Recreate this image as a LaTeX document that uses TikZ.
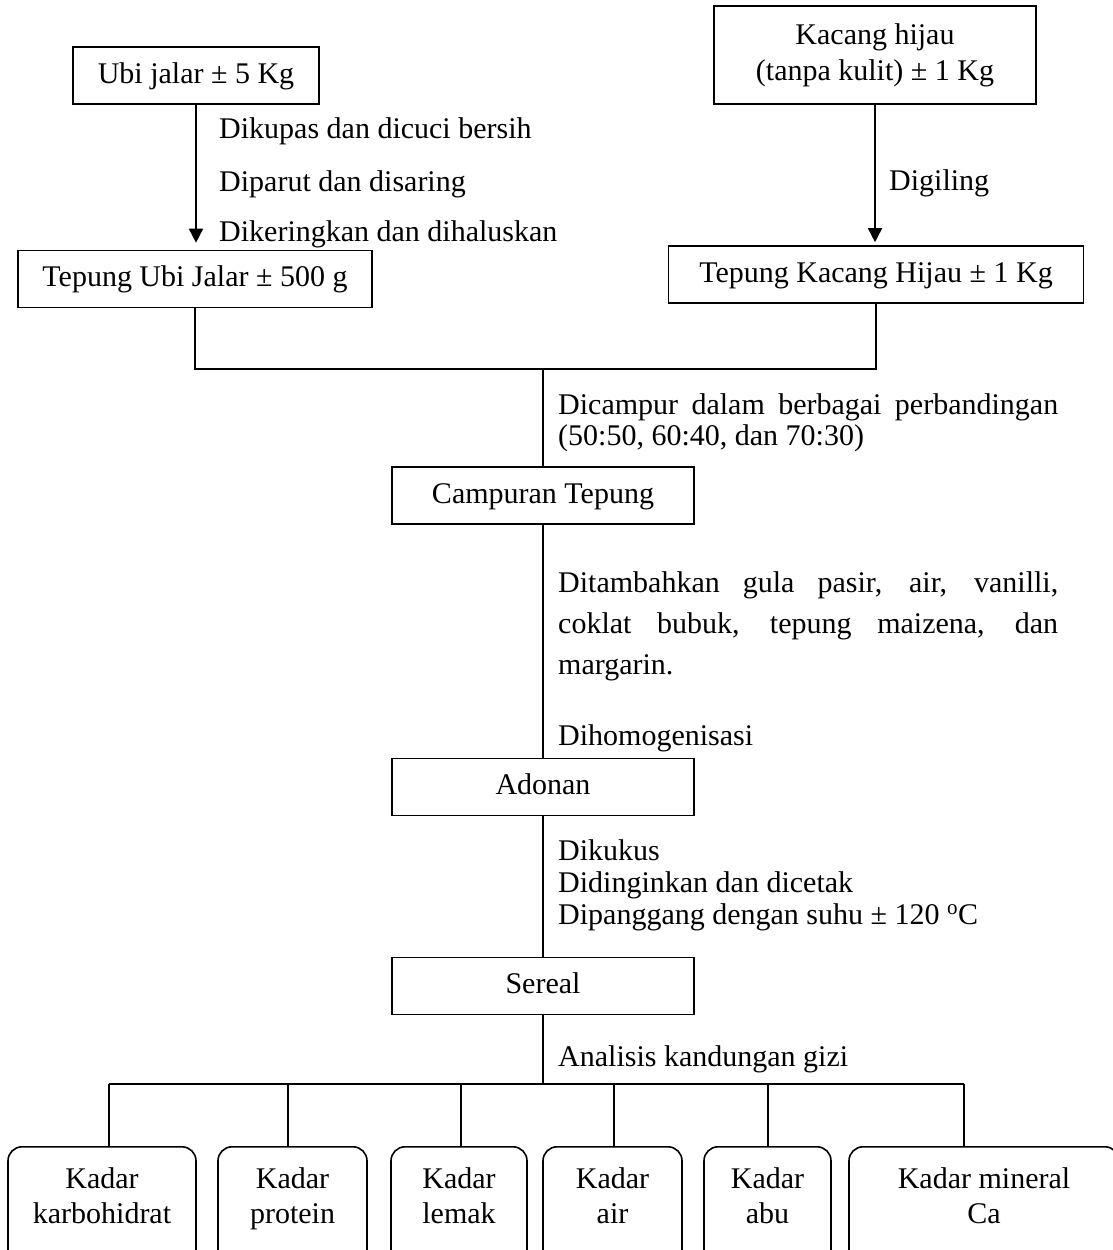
\documentclass[tikz,border=0pt]{standalone}
\usepackage{fontspec}
\setmainfont{Liberation Serif}
\usetikzlibrary{arrows.meta}
\tikzset{
  boxtxt/.style={font=\fontsize{30}{36}\selectfont},
  box/.style={draw, line width=1.6pt, minimum height=57pt, inner xsep=0pt, inner ysep=0pt,
              text height=22pt, text depth=7pt, boxtxt},
  kbox/.style={draw, line width=1.6pt, rounded corners=14pt, anchor=north, align=center,
               inner xsep=0pt, inner ysep=20.5pt, font=\fontsize{30}{35}\selectfont},
  lbl/.style={anchor=base west, inner sep=0pt, boxtxt},
  conn/.style={line width=1.6pt},
  arr/.style={line width=1.6pt, -{Triangle[width=14pt,length=14pt]}},
}
\begin{document}
\begin{tikzpicture}[x=1pt,y=-1pt]
\fill[white] (0,0) rectangle (1113,1250);
\useasboundingbox (0,0) rectangle (1113,1250);

% top boxes
\node[box, minimum width=246pt] (ubi) at (196,75.5) {Ubi jalar ± 5 Kg};
\node[draw, line width=1.6pt, minimum width=322pt, minimum height=98pt, align=center,
      inner sep=0pt, boxtxt] (kacang) at (875,55) {Kacang hijau\\(tanpa kulit) ± 1 Kg};
\node[box, minimum width=354pt] (tubi) at (195,279) {Tepung Ubi Jalar ± 500 g};
\node[box, minimum width=415pt] (tkacang) at (876,274.5) {Tepung Kacang Hijau ± 1 Kg};

% central boxes
\node[box, minimum width=302pt] (campur) at (543,495.5) {Campuran Tepung};
\node[box, minimum width=302pt] (adonan) at (543,787) {Adonan};
\node[box, minimum width=302pt] (sereal) at (543,986) {Sereal};

% arrows
\draw[arr, shorten >=7pt] (ubi) -- (ubi |- tubi.north);
\draw[arr, shorten >=3pt] (kacang) -- (kacang |- tkacang.north);

% labels
\node[lbl] (l1) at (219,138) {Dikupas dan dicuci bersih};
\node[lbl] (l2) at (219,191) {Diparut dan disaring};
\node[lbl] (l3) at (219,241) {Dikeringkan dan dihaluskan};
\node[lbl] (l4) at (889,190) {Digiling};

% merge
\coordinate (m) at (543,369);
\draw[conn] (tubi.south) |- (m) -| (tkacang.south);
\draw[conn] (m) -- (campur.north);
\draw[conn] (campur) -- (adonan);
\draw[conn] (adonan) -- (sereal);

\node[lbl, text width=500pt, align=justify, font=\fontsize{30}{31}\selectfont] (l5) at (558,414)
  {Dicampur dalam berbagai perbandingan\linebreak (50:50, 60:40, dan 70:30)};
\node[lbl, text width=500pt, align=justify, font=\fontsize{30}{41}\selectfont] (l6) at (558,592)
  {Ditambahkan gula pasir, air, vanilli,\linebreak coklat bubuk, tepung maizena, dan\linebreak margarin.};
\node[lbl] (l7) at (558,745) {Dihomogenisasi};
\node[lbl, align=left, font=\fontsize{30}{32}\selectfont] (l8) at (558,924)
  {Dikukus\\Didinginkan dan dicetak\\Dipanggang dengan suhu ± 120 \textsuperscript{o}C};
\node[lbl] (l9) at (558,1066) {Analisis kandungan gizi};

% analysis bus
\coordinate (bus) at (543,1084);
\coordinate (bl) at (109,1084);
\coordinate (br) at (964,1084);
\draw[conn] (sereal) -- (bus);
\draw[conn] (bl) -- (br);

% result boxes
\node[kbox, minimum width=188pt] (k1) at (102,1146) {Kadar\\karbohidrat\rule[-40pt]{0pt}{40pt}};
\node[kbox, minimum width=149pt] (k2) at (292.5,1146) {Kadar\\protein\rule[-40pt]{0pt}{40pt}};
\node[kbox, minimum width=136pt] (k3) at (459,1146) {Kadar\\lemak\rule[-40pt]{0pt}{40pt}};
\node[kbox, minimum width=139pt] (k4) at (612.5,1146) {Kadar\\air\rule[-40pt]{0pt}{40pt}};
\node[kbox, minimum width=127pt] (k5) at (767.5,1146) {Kadar\\abu\rule[-40pt]{0pt}{40pt}};
\node[kbox, minimum width=270pt] (k6) at (984,1146) {Kadar mineral\\Ca\rule[-40pt]{0pt}{40pt}};

\coordinate (t1) at (109,1084);
\coordinate (t2) at (288,1084);
\coordinate (t3) at (461,1084);
\coordinate (t4) at (614,1084);
\coordinate (t5) at (768,1084);
\coordinate (t6) at (964,1084);
\draw[conn] (t1) -- (t1 |- k1.north);
\draw[conn] (t2) -- (t2 |- k2.north);
\draw[conn] (t3) -- (t3 |- k3.north);
\draw[conn] (t4) -- (t4 |- k4.north);
\draw[conn] (t5) -- (t5 |- k5.north);
\draw[conn] (t6) -- (t6 |- k6.north);
\end{tikzpicture}
\end{document}
